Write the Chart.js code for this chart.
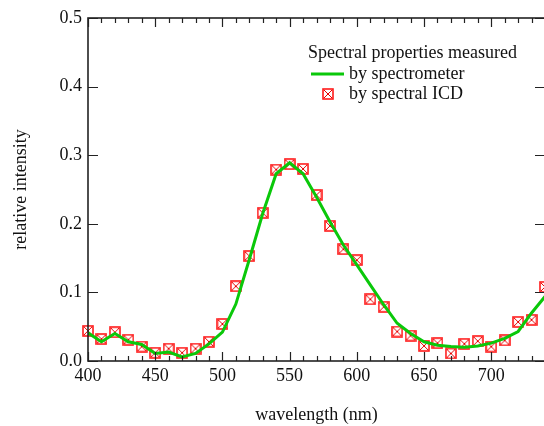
<!DOCTYPE html>
<html>
<head>
<meta charset="utf-8">
<script src="https://cdn.jsdelivr.net/npm/chart.js@4/dist/chart.umd.min.js"></script>
<style>
  html, body { margin: 0; padding: 0; background: #fff; overflow: hidden; }
  #wrap { position: absolute; left: 0; top: 0; width: 552px; height: 426px; }
</style>
</head>
<body>
<div id="wrap"><canvas id="myChart" width="552" height="426"></canvas></div>
<script>
// wavelengths (nm)
const wavelengths = [400, 410, 420, 430, 440, 450, 460, 470, 480, 490, 500, 510, 520, 530, 540, 550, 560, 570,
                     580, 590, 600, 610, 620, 630, 640, 650, 660, 670, 680, 690, 700, 710, 720, 730, 740];
// by spectrometer (green line)
const spectrometer = [0.041, 0.028, 0.040, 0.028, 0.024, 0.011, 0.013, 0.006, 0.011, 0.025, 0.042, 0.083, 0.148, 0.215, 0.273, 0.289, 0.273, 0.239,
                      0.203, 0.169, 0.140, 0.111, 0.082, 0.055, 0.040, 0.028, 0.023, 0.021, 0.020, 0.022, 0.026, 0.033, 0.043, 0.070, 0.094];
// by spectral ICD (red markers)
const icd = [0.044, 0.032, 0.042, 0.031, 0.021, 0.012, 0.018, 0.012, 0.018, 0.028, 0.054, 0.109, 0.153, 0.216, 0.279, 0.287, 0.280, 0.242,
             0.197, 0.163, 0.147, 0.090, 0.079, 0.043, 0.037, 0.022, 0.026, 0.011, 0.025, 0.029, 0.021, 0.030, 0.057, 0.060, 0.108];

const xTicks = [400, 450, 500, 550, 600, 650, 700];
const yTicks = [0.0, 0.1, 0.2, 0.3, 0.4, 0.5];
const xMin = 400, xMax = 740, xMinorStep = 10;

const legendTitle = "Spectral properties measured";
const fontFam = "'Liberation Serif', 'DejaVu Serif', serif";
const textCol = "#111";

// square with a cross inside, used as point style
function makeMarker() {
  const c = document.createElement("canvas");
  c.width = 12; c.height = 12;
  const g = c.getContext("2d");
  g.strokeStyle = "rgba(255,0,0,0.9)";
  g.lineWidth = 1.6;
  g.strokeRect(1, 1, 10, 10);
  g.lineWidth = 1;
  g.strokeStyle = "rgba(230,0,0,1)";
  g.beginPath();
  g.moveTo(2, 2); g.lineTo(10, 10);
  g.moveTo(10, 2); g.lineTo(2, 10);
  g.stroke();
  return c;
}
const marker = makeMarker();

const framePlugin = {
  id: "frame",
  afterDraw(chart) {
    const ctx = chart.ctx;
    const a = chart.chartArea;
    const xs = chart.scales.x, ys = chart.scales.y;
    ctx.save();
    ctx.strokeStyle = "#222";
    ctx.lineWidth = 1.6;
    ctx.strokeRect(a.left, a.top, a.right - a.left, a.bottom - a.top);

    // inward ticks
    ctx.lineWidth = 1.2;
    ctx.beginPath();
    for (let v = xMin; v <= xMax; v += xMinorStep) {
      const px = Math.round(xs.getPixelForValue(v)) + 0.5;
      const len = (v % 50 === 0) ? 9 : 5;
      ctx.moveTo(px, a.bottom); ctx.lineTo(px, a.bottom - len);
      ctx.moveTo(px, a.top); ctx.lineTo(px, a.top + len);
    }
    yTicks.forEach(v => {
      const py = Math.round(ys.getPixelForValue(v)) + 0.5;
      ctx.moveTo(a.left, py); ctx.lineTo(a.left + 10, py);
      ctx.moveTo(a.right, py); ctx.lineTo(a.right - 10, py);
    });
    ctx.stroke();

    // axis titles
    ctx.fillStyle = textCol;
    ctx.font = "18px " + fontFam;
    ctx.textAlign = "center";
    ctx.textBaseline = "alphabetic";
    ctx.fillText("wavelength (nm)", (a.left + a.right) / 2, 420);
    ctx.save();
    ctx.translate(26, (a.top + a.bottom) / 2);
    ctx.rotate(-Math.PI / 2);
    ctx.fillText("relative intensity", 0, 0);
    ctx.restore();

    // legend
    const ds = chart.data.datasets;
    ctx.textAlign = "left";
    ctx.fillText(legendTitle, 308, 58);
    ctx.strokeStyle = ds[0].borderColor;
    ctx.lineWidth = ds[0].borderWidth;
    ctx.beginPath();
    ctx.moveTo(311, 74); ctx.lineTo(344, 74);
    ctx.stroke();
    ctx.fillText(ds[0].label, 349, 79);
    ctx.drawImage(marker, 322, 88);
    ctx.fillText(ds[1].label, 349, 99);
    ctx.restore();
  }
};

new Chart(document.getElementById("myChart"), {
  type: "scatter",
  data: {
    datasets: [
      {
        type: "line",
        label: "by spectrometer",
        data: wavelengths.map((w, i) => ({ x: w, y: spectrometer[i] })),
        borderColor: "rgb(10,200,10)",
        borderWidth: 3,
        pointRadius: 0,
        tension: 0,
        order: 0
      },
      {
        label: "by spectral ICD",
        data: wavelengths.map((w, i) => ({ x: w, y: icd[i] })),
        pointStyle: marker,
        pointRadius: 6,
        showLine: false,
        clip: false,
        order: 1
      }
    ]
  },
  options: {
    responsive: false,
    animation: false,
    layout: { padding: { top: 18, right: 6, left: 0, bottom: 0 } },
    plugins: { legend: { display: false }, tooltip: { enabled: false } },
    scales: {
      x: {
        type: "linear",
        min: xMin, max: xMax,
        afterFit: s => { s.height = 65; },
        afterBuildTicks: s => { s.ticks = xTicks.map(v => ({ value: v })); },
        grid: { display: false, drawTicks: false },
        border: { display: false },
        ticks: { padding: 4, color: textCol, font: { family: fontFam, size: 18 }, maxRotation: 0 }
      },
      y: {
        min: 0, max: 0.5,
        afterFit: s => { s.width = 88; },
        afterBuildTicks: s => { s.ticks = yTicks.map(v => ({ value: v })); },
        grid: { display: false, drawTicks: false },
        border: { display: false },
        ticks: { padding: 6, color: textCol, font: { family: fontFam, size: 18 }, callback: v => v.toFixed(1) }
      }
    }
  },
  plugins: [framePlugin]
});
</script>
</body>
</html>
